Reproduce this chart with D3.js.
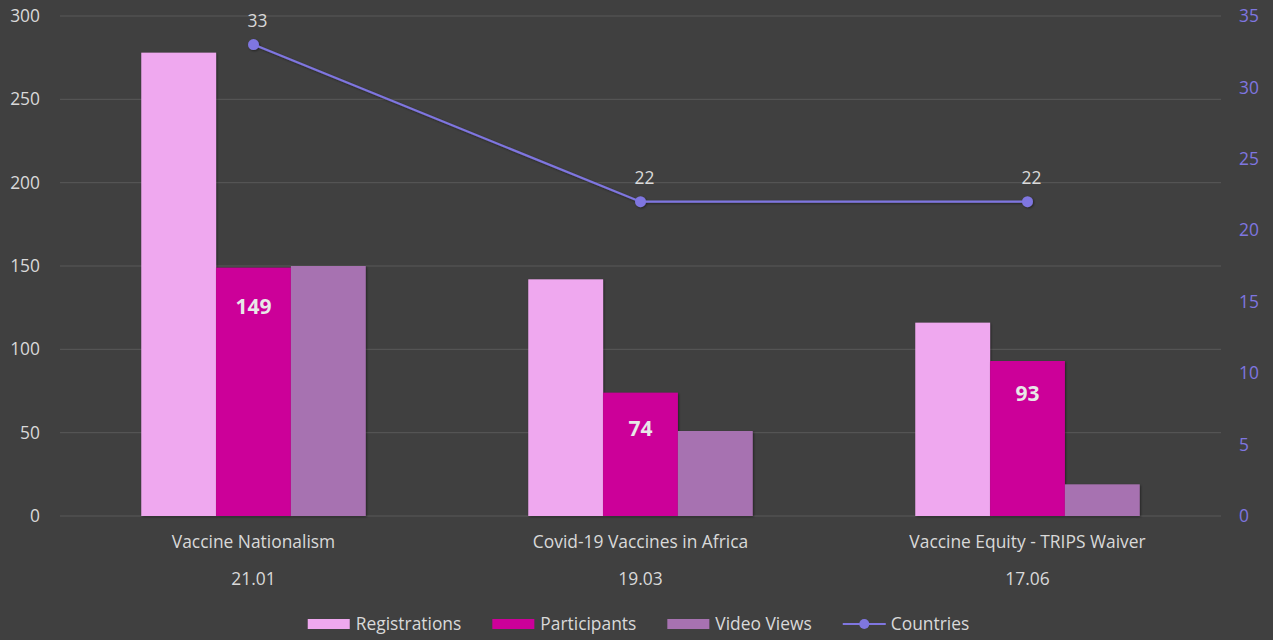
<!DOCTYPE html>
<html><head><meta charset="utf-8">
<script src="https://cdn.jsdelivr.net/npm/d3@7"></script>
<style>
html,body{margin:0;padding:0;background:#404040;}
svg{display:block;font-family:"Open Sans","Noto Sans",sans-serif;}
</style></head>
<body>
<svg id="chart" width="1273" height="640"></svg>
<script>
const categories = ["Vaccine Nationalism", "Covid-19 Vaccines in Africa", "Vaccine Equity - TRIPS Waiver"];
const dates = ["21.01", "19.03", "17.06"];
const seriesNames = ["Registrations", "Participants", "Video Views"];
const registrations = [278, 142, 116];
const participants = [149, 74, 93];
const videoViews = [150, 51, 19];
const countries = [33, 22, 22];
const leftTicks = [0, 50, 100, 150, 200, 250, 300];
const rightTicks = [0, 5, 10, 15, 20, 25, 30, 35];

const colors = ["#efa8ef", "#cc0099", "#a772b1"];
const lineColor = "#7f76e0";
const textColor = "#d9d9d9";
const FS = "17.4px";

const svg = d3.select("#chart");
const W = 1273, H = 640;
const m = {left: 60, right: 52, top: 16, bottom: 124};
const x0 = m.left, x1 = W - m.right, yTop = m.top, yBot = H - m.bottom;

const x = d3.scaleBand().domain(categories).range([x0, x1]).paddingInner(0.42).paddingOuter(0.21);
const xs = d3.scaleBand().domain(seriesNames).range([0, x.bandwidth()]);
const y = d3.scaleLinear().domain([0, 300]).range([yBot, yTop]);
const y2 = d3.scaleLinear().domain([0, 35]).range([yBot, yTop]);

const defs = svg.append("defs");
const f = defs.append("filter").attr("id", "sh").attr("x", "-10%").attr("y", "-10%").attr("width", "130%").attr("height", "130%");
f.append("feDropShadow").attr("dx", 1).attr("dy", 1).attr("stdDeviation", 1.2).attr("flood-color", "#000").attr("flood-opacity", 0.45);

// gridlines
svg.append("g").selectAll("line").data(leftTicks).join("line")
  .attr("x1", x0).attr("x2", x1)
  .attr("y1", d => y(d)).attr("y2", d => y(d))
  .attr("stroke", "#585858").attr("stroke-width", 1);

// left axis
const la = svg.append("g").attr("transform", `translate(${x0},0)`)
  .call(d3.axisLeft(y).tickValues(leftTicks).tickSize(0).tickPadding(20));
la.select(".domain").remove();
la.selectAll("text").attr("fill", textColor).style("font-size", FS).style("font-family", "'Open Sans',sans-serif");

// right axis
const ra = svg.append("g").attr("transform", `translate(${x1},0)`)
  .call(d3.axisRight(y2).tickValues(rightTicks).tickSize(0).tickPadding(18));
ra.select(".domain").remove();
ra.selectAll("text").attr("fill", lineColor).style("font-size", FS).style("font-family", "'Open Sans',sans-serif");

// bars
const data = categories.map((c, i) => ({c, vals: [registrations[i], participants[i], videoViews[i]]}));
const g = svg.append("g");
data.forEach(d => {
  d.vals.forEach((v, j) => {
    g.append("rect")
      .attr("x", x(d.c) + xs(seriesNames[j]))
      .attr("y", y(v))
      .attr("width", xs.bandwidth())
      .attr("height", y(0) - y(v))
      .attr("fill", colors[j])
      .attr("filter", "url(#sh)");
  });
});
// participant labels (inside end)
const labelDy = [41, 38, 34];
data.forEach((d, i) => {
  svg.append("text")
    .attr("x", x(d.c) + xs("Participants") + xs.bandwidth() / 2)
    .attr("y", y(d.vals[1]) + labelDy[i])
    .attr("text-anchor", "middle").attr("dominant-baseline", "middle")
    .attr("fill", "#e8e8e8").style("font-size", "21px").style("font-weight", "bold")
    .text(d.vals[1]);
});

// line
const cx = c => x(c) + x.bandwidth() / 2;
const lg = svg.append("g").attr("filter", "url(#sh)");
lg.append("path")
  .datum(countries)
  .attr("d", d3.line().x((d, i) => cx(categories[i])).y(d => y2(d)))
  .attr("fill", "none").attr("stroke", lineColor).attr("stroke-width", 2.2);
lg.selectAll("circle").data(countries).join("circle")
  .attr("cx", (d, i) => cx(categories[i])).attr("cy", d => y2(d)).attr("r", 5.5)
  .attr("fill", lineColor);
svg.append("g").selectAll("text").data(countries).join("text")
  .attr("x", (d, i) => cx(categories[i]) + 4).attr("y", d => y2(d) - 22)
  .attr("text-anchor", "middle").attr("dominant-baseline", "middle")
  .attr("fill", textColor).style("font-size", FS)
  .text(d => d);

// category labels
svg.append("g").selectAll("text").data(categories).join("text")
  .attr("x", d => cx(d)).attr("y", 543)
  .attr("text-anchor", "middle").attr("dominant-baseline", "middle")
  .attr("fill", textColor).style("font-size", FS).text(d => d);
svg.append("g").selectAll("text").data(dates).join("text")
  .attr("x", (d, i) => cx(categories[i])).attr("y", 580)
  .attr("text-anchor", "middle").attr("dominant-baseline", "middle")
  .attr("fill", textColor).style("font-size", FS).text(d => d);

// legend (flow layout, centered)
const legY = 624;
const legItems = [
  {name: "Registrations", type: "rect", color: colors[0]},
  {name: "Participants", type: "rect", color: colors[1]},
  {name: "Video Views", type: "rect", color: colors[2]},
  {name: "Countries", type: "line", color: lineColor}
];
const leg = svg.append("g");
let cur = 0;
const GAP = 31;
legItems.forEach((it, i) => {
  const ig = leg.append("g").attr("transform", `translate(${cur},0)`);
  if (it.type === "rect") {
    ig.append("rect").attr("x", 0).attr("y", legY - 5).attr("width", 42).attr("height", 10).attr("fill", it.color);
  } else {
    ig.append("line").attr("x1", 0).attr("x2", 43).attr("y1", legY).attr("y2", legY)
      .attr("stroke", it.color).attr("stroke-width", 2.2);
    ig.append("circle").attr("cx", 21.5).attr("cy", legY).attr("r", 5).attr("fill", it.color);
  }
  const t = ig.append("text").attr("x", 48).attr("y", legY + 1).attr("dominant-baseline", "middle")
    .attr("fill", textColor).style("font-size", FS).text(it.name);
  cur += 48 + t.node().getComputedTextLength() + GAP;
});
const legW = cur - GAP;
leg.attr("transform", `translate(${638.5 - legW / 2},0)`);
</script>
</body></html>
